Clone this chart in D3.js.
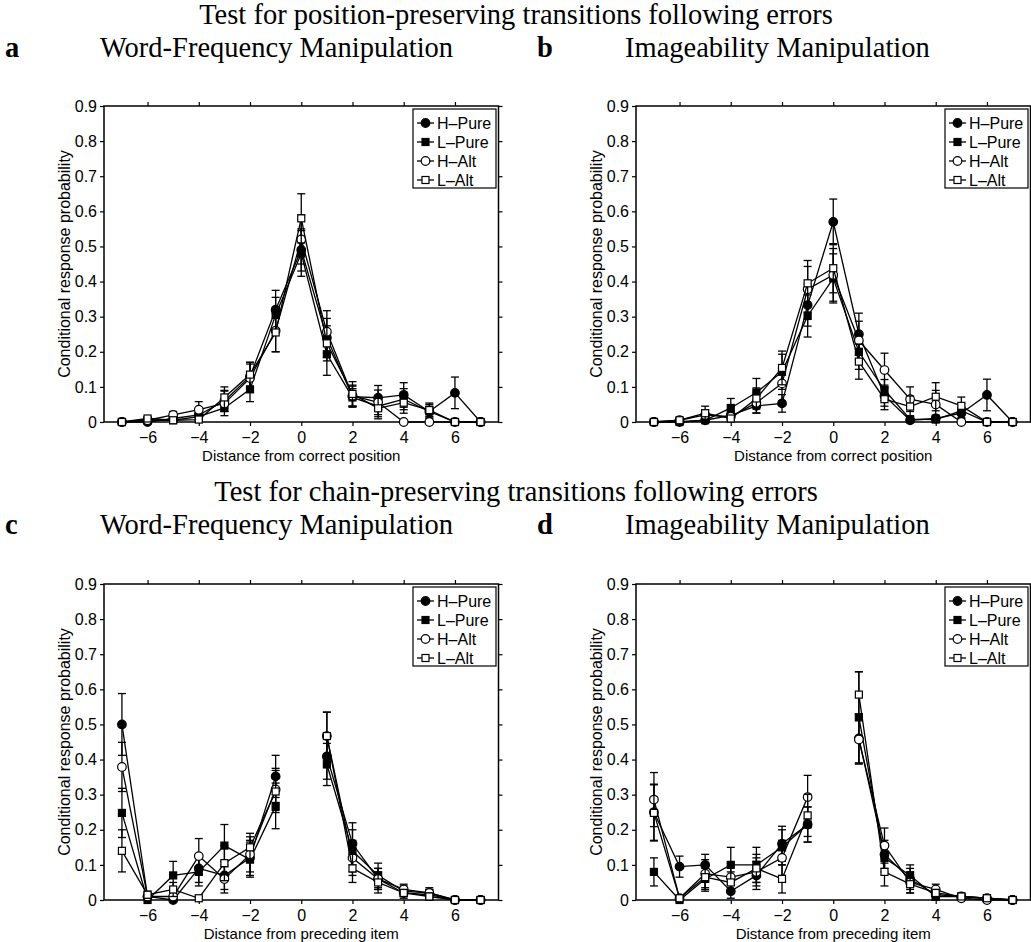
<!DOCTYPE html>
<html>
<head>
<meta charset="utf-8">
<script src="https://cdn.jsdelivr.net/npm/d3@7"></script>
<style>
body{margin:0;background:#fff;}
svg{display:block;}
</style>
</head>
<body>
<svg></svg>
<script>
const W = 1031, H = 942;
const sans = "'Liberation Sans', Arial, Helvetica, sans-serif";
const serif = "'Liberation Serif', 'Times New Roman', serif";

// x positions
const xPosition = [-7,-6,-5,-4,-3,-2,-1,0,1,2,3,4,5,6,7];
const xChain = [-7,-6,-5,-4,-3,-2,-1,1,2,3,4,5,6,7];
const xTicks = [-6,-4,-2,0,2,4,6];
const yTicks = [0,0.1,0.2,0.3,0.4,0.5,0.6,0.7,0.8,0.9];
const seriesNames = ['H\u2013Pure','L\u2013Pure','H\u2013Alt','L\u2013Alt'];

// panel a: position, word frequency
const aHPure = [0,0,0.01,0.02,0.06,0.13,0.32,0.49,0.24,0.072,0.069,0.077,0.03,0.083,0];
const aLPure = [0,0.005,0.005,0.015,0.04,0.093,0.305,0.48,0.193,0.07,0.045,0.065,0.03,0,0];
const aHAlt  = [0,0.005,0.02,0.035,0.053,0.125,0.26,0.52,0.257,0.075,0.056,0,0,0,0];
const aLAlt  = [0,0.01,0.005,0.007,0.07,0.135,0.255,0.58,0.224,0.08,0.039,0.055,0.034,0,0];
const aHPureErr = [0,0,0.01,0.015,0.03,0.04,0.055,0.06,0.055,0.03,0.035,0.035,0.02,0.045,0];
const aLPureErr = [0,0.005,0.005,0.01,0.01,0.035,0.05,0.065,0.06,0.025,0.03,0.03,0.015,0,0];
const aHAltErr  = [0,0.005,0.01,0.023,0.035,0.04,0.06,0.07,0.06,0.03,0.035,0,0,0,0];
const aLAltErr  = [0,0.005,0.005,0.005,0.03,0.035,0.055,0.07,0.05,0.035,0.03,0.03,0.02,0,0];

// panel b: position, imageability
const bHPure = [0,0,0.005,0.019,0.046,0.053,0.333,0.57,0.25,0.075,0.005,0.01,0.025,0.077,0];
const bLPure = [0,0,0.005,0.04,0.084,0.143,0.302,0.409,0.2,0.091,0.008,0.007,0.032,0,0];
const bHAlt  = [0,0.005,0.02,0.015,0.055,0.11,0.378,0.419,0.232,0.148,0.065,0.05,0,0,0];
const bLAlt  = [0,0.005,0.025,0.01,0.067,0.154,0.395,0.438,0.172,0.065,0.044,0.072,0.046,0,0];
const bHPureErr = [0,0,0.005,0.01,0.02,0.025,0.06,0.065,0.06,0.03,0.005,0.01,0.015,0.045,0];
const bLPureErr = [0,0,0.005,0.027,0.04,0.05,0.06,0.07,0.05,0.03,0.005,0.01,0.02,0,0];
const bHAltErr  = [0,0.005,0.015,0.01,0.03,0.05,0.065,0.075,0.055,0.048,0.035,0.04,0,0,0];
const bLAltErr  = [0,0.005,0.02,0.005,0.03,0.048,0.065,0.07,0.05,0.03,0.03,0.04,0.025,0,0];

// panel c: chain, word frequency
const cHPure = [0.5,0.01,0,0.09,0.07,0.12,0.352,0.409,0.16,0.06,0.02,0.015,0,0];
const cLPure = [0.248,0,0.07,0.08,0.155,0.115,0.268,0.386,0.14,0.07,0.025,0.02,0,0];
const cHAlt  = [0.379,0.01,0.01,0.125,0.06,0.13,0.315,0.467,0.12,0.06,0.03,0.02,0,0];
const cLAlt  = [0.14,0.015,0.03,0.005,0.105,0.15,0.309,0.467,0.09,0.05,0.02,0.01,0,0];
const cHPureErr = [0.088,0.01,0,0.04,0.04,0.05,0.06,0.065,0.06,0.03,0.015,0.01,0,0];
const cLPureErr = [0.07,0,0.04,0.04,0.06,0.05,0.065,0.06,0.06,0.035,0.015,0.01,0,0];
const cHAltErr  = [0.07,0.01,0.01,0.05,0.04,0.05,0.06,0.068,0.05,0.03,0.015,0.015,0,0];
const cLAltErr  = [0.06,0.01,0.02,0.005,0.05,0.04,0.06,0.068,0.04,0.03,0.01,0.01,0,0];

// panel d: chain, imageability
const dHPure = [0.25,0.095,0.1,0.025,0.07,0.16,0.215,0.46,0.13,0.06,0.015,0.01,0.005,0];
const dLPure = [0.08,0,0.06,0.1,0.1,0.15,0.215,0.52,0.12,0.07,0.01,0.01,0.005,0];
const dHAlt  = [0.286,0.005,0.075,0.065,0.08,0.12,0.293,0.457,0.155,0.05,0.03,0.005,0,0];
const dLAlt  = [0.248,0.005,0.065,0.05,0.09,0.06,0.241,0.585,0.08,0.045,0.02,0.01,0.005,0];
const dHPureErr = [0.08,0.03,0.03,0.02,0.04,0.05,0.05,0.07,0.04,0.03,0.01,0.005,0.005,0];
const dLPureErr = [0.04,0,0.03,0.05,0.05,0.05,0.05,0.13,0.04,0.03,0.01,0.005,0.005,0];
const dHAltErr  = [0.077,0.005,0.04,0.04,0.04,0.05,0.062,0.07,0.05,0.03,0.015,0.005,0,0];
const dLAltErr  = [0.08,0.005,0.04,0.03,0.04,0.04,0.06,0.065,0.04,0.025,0.01,0.005,0.005,0];

const panels = [
	{left:104, top:106, xs:xPosition, xlabel:'Distance from correct position',
	 ys:[aHPure,aLPure,aHAlt,aLAlt], es:[aHPureErr,aLPureErr,aHAltErr,aLAltErr]},
	{left:636, top:106, xs:xPosition, xlabel:'Distance from correct position',
	 ys:[bHPure,bLPure,bHAlt,bLAlt], es:[bHPureErr,bLPureErr,bHAltErr,bLAltErr]},
	{left:104, top:584, xs:xChain, xlabel:'Distance from preceding item',
	 ys:[cHPure,cLPure,cHAlt,cLAlt], es:[cHPureErr,cLPureErr,cHAltErr,cLAltErr]},
	{left:636, top:584, xs:xChain, xlabel:'Distance from preceding item',
	 ys:[dHPure,dLPure,dHAlt,dLAlt], es:[dHPureErr,dLPureErr,dHAltErr,dLAltErr]}
];
const plotW = 394.5, plotH = 316;

const svg = d3.select('svg').attr('width', W).attr('height', H);

// headings
function heading(txt, x, y, anchor, weight){
	svg.append('text').attr('x', x).attr('y', y)
	.attr('text-anchor', anchor)
	.style('font-family', serif).style('font-size', '28.5px')
	.style('font-weight', weight||'normal')
	.text(txt);
}
heading('Test for position-preserving transitions following errors', 516, 24, 'middle');
heading('a', 5, 57, 'start', 'bold');
heading('Word-Frequency Manipulation', 100, 57, 'start');
heading('b', 537, 57, 'start', 'bold');
heading('Imageability Manipulation', 625, 57, 'start');
heading('Test for chain-preserving transitions following errors', 516, 501, 'middle');
heading('c', 5, 534, 'start', 'bold');
heading('Word-Frequency Manipulation', 100, 534, 'start');
heading('d', 537, 534, 'start', 'bold');
heading('Imageability Manipulation', 625, 534, 'start');

function marker(g, k, cx, cy){
	if(k==0||k==2){
		g.append('circle').attr('cx', cx).attr('cy', cy).attr('r', 4.3)
		.style('fill', k==0?'black':'white').style('stroke','black').style('stroke-width',1.2);
	}else{
		g.append('rect').attr('x', cx-3.5).attr('y', cy-3.5).attr('width', 7).attr('height', 7)
		.style('fill', k==1?'black':'white').style('stroke','black').style('stroke-width',1.2);
	}
}

panels.forEach(p => {
	const g = svg.append('g').attr('transform', 'translate('+p.left+','+p.top+')');
	const x = d3.scaleLinear().domain([-7.7,7.7]).range([0,plotW]);
	const y = d3.scaleLinear().domain([0,0.9]).range([plotH,0]);

	// axes with outward ticks
	const axB = g.append('g').attr('transform','translate(0,'+plotH+')')
	.call(d3.axisBottom(x).tickValues(xTicks).tickSize(4).tickPadding(4)
		.tickFormat(d => d<0 ? '\u2212'+Math.abs(d) : d));
	const axT = g.append('g').call(d3.axisTop(x).tickValues(xTicks).tickSize(4).tickFormat(''));
	const axL = g.append('g')
	.call(d3.axisLeft(y).tickValues(yTicks).tickSize(4).tickPadding(3)
		.tickFormat(d => d==0 ? '0' : d3.format('.1f')(d)));
	const axR = g.append('g').attr('transform','translate('+plotW+',0)')
	.call(d3.axisRight(y).tickValues(yTicks).tickSize(4).tickFormat(''));
	[axB,axT,axL,axR].forEach(a => {
		a.select('.domain').remove();
		a.selectAll('line').style('stroke','black').style('stroke-width',1.2);
		a.selectAll('text').style('font-family', sans).style('font-size','16px').style('fill','black');
	});
	axB.selectAll('text').attr('dy','0.84em');

	g.append('rect').attr('x',0).attr('y',0).attr('width',plotW).attr('height',plotH)
	.style('fill','none').style('stroke','black').style('stroke-width',1.5);

	g.append('text').attr('x', plotW/2).attr('y', plotH+38.5)
	.attr('text-anchor','middle')
	.style('font-family', sans).style('font-size','15px')
	.text(p.xlabel);
	g.append('text').attr('transform','translate(-34,'+(plotH/2)+') rotate(-90)')
	.attr('text-anchor','middle')
	.style('font-family', sans).style('font-size','16px')
	.text('Conditional response probability');

	const line = d3.line().x(d => x(d[0])).y(d => y(d[1]));
	p.ys.forEach((vals, k) => {
		const pts = p.xs.map((xv,i) => [xv, vals[i], p.es[k][i]]);
		// split where x skips a value (chain panels have no 0)
		const segs = [[]];
		pts.forEach((d,i) => {
			if(i > 0 && d[0] - pts[i-1][0] > 1) segs.push([]);
			segs[segs.length-1].push(d);
		});
		const sg = g.append('g');
		// error bars
		pts.filter(d => d[2] > 0).forEach(d => {
			const lo = y(Math.max(0, d[1]-d[2])), hi = y(d[1]+d[2]), cx = x(d[0]);
			sg.append('line').attr('x1',cx).attr('x2',cx).attr('y1',lo).attr('y2',hi)
			.style('stroke','black').style('stroke-width',1.3);
			[lo,hi].forEach(yy => sg.append('line').attr('x1',cx-4).attr('x2',cx+4).attr('y1',yy).attr('y2',yy)
				.style('stroke','black').style('stroke-width',1.3));
		});
		segs.forEach(s => sg.append('path').datum(s).attr('d', line)
			.style('fill','none').style('stroke','black').style('stroke-width',1.3));
		pts.forEach(d => marker(sg, k, x(d[0]), y(d[1])));
	});

	// legend
	const lg = g.append('g').attr('transform','translate('+(plotW-85.5)+',3)');
	lg.append('rect').attr('x',0).attr('y',0).attr('width',83).attr('height',79)
	.style('fill','white').style('stroke','black').style('stroke-width',1.2);
	seriesNames.forEach((nm,k) => {
		const yy = 14 + k*19;
		lg.append('line').attr('x1',4).attr('x2',21).attr('y1',yy).attr('y2',yy)
		.style('stroke','black').style('stroke-width',1.3);
		marker(lg, k, 12.5, yy);
		lg.append('text').attr('x',24).attr('y',yy).attr('dy','0.36em')
		.style('font-family', sans).style('font-size','16px')
		.text(nm);
	});
});
</script>
</body>
</html>
